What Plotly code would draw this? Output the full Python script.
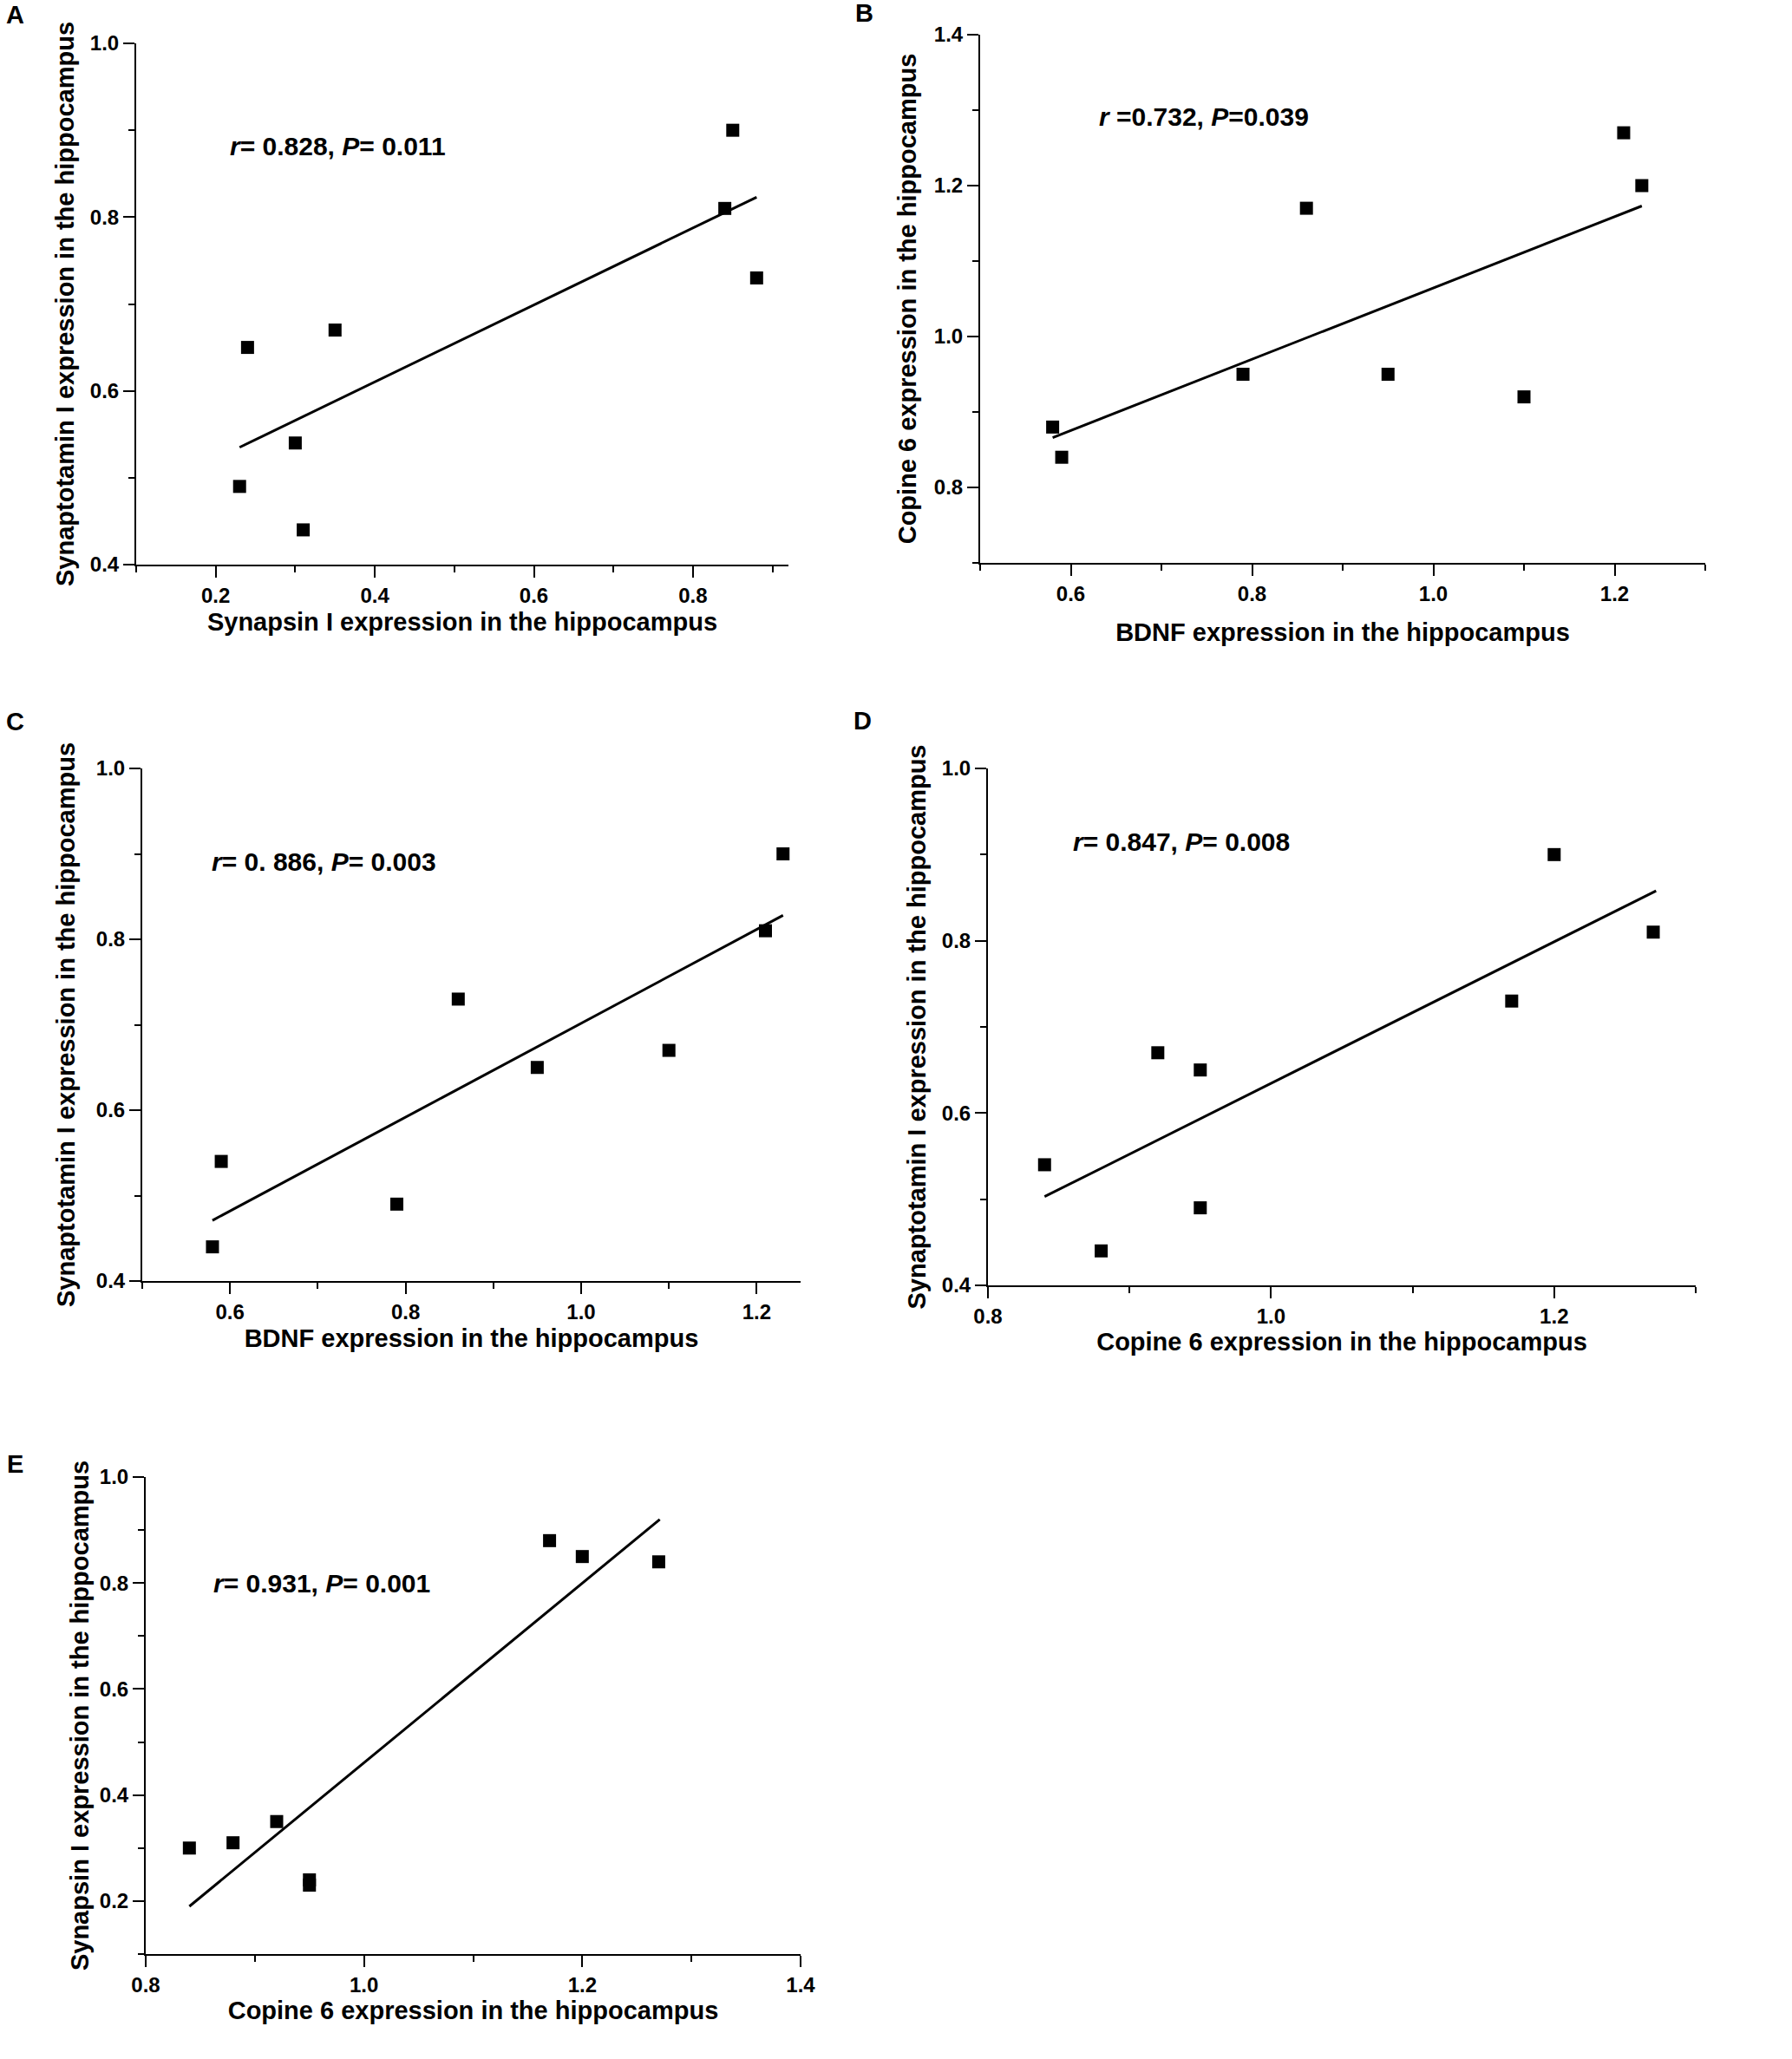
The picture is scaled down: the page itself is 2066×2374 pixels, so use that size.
import plotly.graph_objects as go

# ---- data ----
# A: Synapsin I (x) vs Synaptotamin I (y)
a_x = [0.23, 0.24, 0.35, 0.30, 0.31, 0.84, 0.85, 0.88]
a_y = [0.49, 0.65, 0.67, 0.54, 0.44, 0.81, 0.90, 0.73]
a_fit_x = [0.23, 0.88]
a_fit_y = [0.535, 0.823]

# B: BDNF (x) vs Copine 6 (y)
b_x = [0.58, 0.59, 0.79, 0.86, 0.95, 1.10, 1.21, 1.23]
b_y = [0.88, 0.84, 0.95, 1.17, 0.95, 0.92, 1.27, 1.20]
b_fit_x = [0.58, 1.23]
b_fit_y = [0.866, 1.173]

# C: BDNF (x) vs Synaptotamin I (y)
c_x = [0.58, 0.59, 0.79, 0.86, 0.95, 1.10, 1.21, 1.23]
c_y = [0.44, 0.54, 0.49, 0.73, 0.65, 0.67, 0.81, 0.90]
c_fit_x = [0.58, 1.23]
c_fit_y = [0.471, 0.828]

# D: Copine 6 (x) vs Synaptotamin I (y)
d_x = [0.84, 0.88, 0.92, 0.95, 0.95, 1.17, 1.20, 1.27]
d_y = [0.54, 0.44, 0.67, 0.65, 0.49, 0.73, 0.90, 0.81]
d_fit_x = [0.84, 1.272]
d_fit_y = [0.503, 0.858]

# E: Copine 6 (x) vs Synapsin I (y)
e_x = [0.84, 0.88, 0.92, 0.95, 0.95, 1.17, 1.20, 1.27]
e_y = [0.30, 0.31, 0.35, 0.24, 0.23, 0.88, 0.85, 0.84]
e_fit_x = [0.84, 1.271]
e_fit_y = [0.19, 0.92]

stats = [
    "<i>r</i>= 0.828, <i>P</i>= 0.011",
    "<i>r</i> =0.732, <i>P</i>=0.039",
    "<i>r</i>= 0. 886, <i>P</i>= 0.003",
    "<i>r</i>= 0.847, <i>P</i>= 0.008",
    "<i>r</i>= 0.931, <i>P</i>= 0.001",
]
x_titles = [
    "Synapsin I expression in the hippocampus",
    "BDNF expression in the hippocampus",
    "BDNF expression in the hippocampus",
    "Copine 6 expression in the hippocampus",
    "Copine 6 expression in the hippocampus",
]
y_titles = [
    "Synaptotamin I expression in the hippocampus",
    "Copine 6 expression in the hippocampus",
    "Synaptotamin I expression in the hippocampus",
    "Synaptotamin I expression in the hippocampus",
    "Synapsin I expression in the hippocampus",
]
panel_letters = ["A", "B", "C", "D", "E"]

W, H = 2066, 2374
FONT = "Liberation Sans, Arial, Helvetica, sans-serif"

# pixel boxes of each plot area: left, right, top, bottom
boxes = [
    (157, 909, 50, 651),
    (1130, 1966, 40, 649),
    (164, 923, 886, 1477),
    (1139, 1955, 886, 1482),
    (168, 923, 1703, 2253),
]
x_ranges = [[0.1, 0.92], [0.5, 1.3], [0.5, 1.25], [0.8, 1.3], [0.8, 1.4]]
y_ranges = [[0.4, 1.0], [0.7, 1.4], [0.4, 1.0], [0.4, 1.0], [0.1, 1.0]]
x_tick0 = [0.2, 0.6, 0.6, 0.8, 0.8]
y_tick0 = [0.4, 0.8, 0.4, 0.4, 0.2]
x_standoff = [8, 22, 8, 6, 6]
y_standoff = [10, 12, 16, 10, 4]
stat_pos = [(0.2156, 0.882), (0.629, 1.291), (0.577, 0.891), (0.859, 0.915), (0.860, 0.80)]
letter_pos = [(17, 17), (996, 15), (17, 832), (994, 831), (17, 1688)]

panels = [
    (a_x, a_y, a_fit_x, a_fit_y),
    (b_x, b_y, b_fit_x, b_fit_y),
    (c_x, c_y, c_fit_x, c_fit_y),
    (d_x, d_y, d_fit_x, d_fit_y),
    (e_x, e_y, e_fit_x, e_fit_y),
]

fig = go.Figure()
annotations = []

for i, (px, py, fx, fy) in enumerate(panels):
    n = i + 1
    xa = "x" if n == 1 else f"x{n}"
    ya = "y" if n == 1 else f"y{n}"

    # scatter points
    fig.add_trace(go.Scatter(
        x=px, y=py, mode="markers", xaxis=xa, yaxis=ya,
        marker=dict(symbol="square", size=15, color="black"),
        showlegend=False, hoverinfo="x+y",
    ))
    # fitted line
    fig.add_trace(go.Scatter(
        x=fx, y=fy, mode="lines", xaxis=xa, yaxis=ya,
        line=dict(color="black", width=3),
        showlegend=False, hoverinfo="skip",
    ))

    l, r, t, b = boxes[i]
    common = dict(
        showline=True, linecolor="black", linewidth=2,
        ticks="outside", ticklen=13, tickwidth=2, tickcolor="black",
        tickmode="linear", dtick=0.2, tickformat=".1f",
        tickfont=dict(family=FONT, size=24, color="black", weight="bold"),
        showgrid=False, zeroline=False, automargin=False,
        minor=dict(dtick=0.1, ticks="outside", ticklen=7, tickwidth=2,
                   tickcolor="black", showgrid=False),
    )
    fig.update_layout({
        ("xaxis" if n == 1 else f"xaxis{n}"): dict(
            common,
            domain=[l / W, r / W],
            range=x_ranges[i],
            tick0=x_tick0[i],
            anchor=ya,
            title=dict(text=x_titles[i], standoff=x_standoff[i],
                       font=dict(family=FONT, size=29, color="black", weight="bold")),
        ),
        ("yaxis" if n == 1 else f"yaxis{n}"): dict(
            common,
            domain=[1 - b / H, 1 - t / H],
            range=y_ranges[i],
            tick0=y_tick0[i],
            anchor=xa,
            title=dict(text=y_titles[i], standoff=y_standoff[i],
                       font=dict(family=FONT, size=29, color="black", weight="bold")),
        ),
    })

    sx, sy = stat_pos[i]
    annotations.append(dict(
        text=stats[i], x=sx, y=sy, xref=xa, yref=ya,
        xanchor="left", yanchor="middle", showarrow=False,
        font=dict(family=FONT, size=30, color="black", weight="bold"),
    ))
    lx, ly = letter_pos[i]
    annotations.append(dict(
        text=panel_letters[i], x=lx / W, y=1 - ly / H, xref="paper", yref="paper",
        xanchor="center", yanchor="middle", showarrow=False,
        font=dict(family=FONT, size=29, color="black", weight="bold"),
    ))

fig.update_layout(
    width=W, height=H,
    margin=dict(l=0, r=0, t=0, b=0),
    paper_bgcolor="white", plot_bgcolor="white",
    annotations=annotations,
    showlegend=False,
)

# drop the browser's default body margin so the figure sits at the page origin
fig.write_html("out.html", config={"displayModeBar": False},
               post_script="document.body.style.margin='0px';")
